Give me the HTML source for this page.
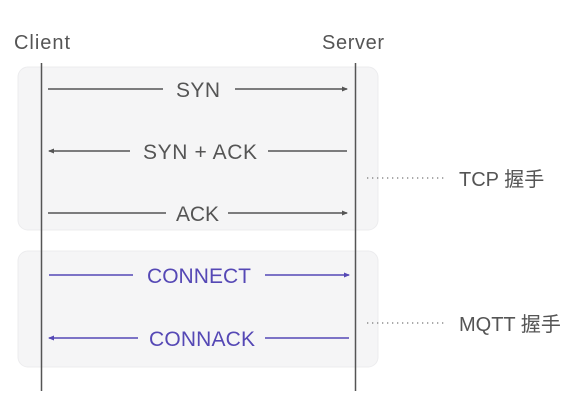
<!DOCTYPE html>
<html><head><meta charset="utf-8"><style>
html,body{margin:0;padding:0;background:#fff;width:585px;height:415px;overflow:hidden}
svg{display:block}
text{font-family:"Liberation Sans","Noto Sans CJK SC",sans-serif}
</style></head><body>
<svg width="585" height="415" viewBox="0 0 585 415" xmlns="http://www.w3.org/2000/svg">
<defs>
<marker id="ag" markerWidth="6" markerHeight="6" refX="5" refY="3" orient="auto" markerUnits="userSpaceOnUse"><path d="M0,0.5 L6,3 L0,5.5z" fill="#555"/></marker>
<marker id="ap" markerWidth="6" markerHeight="6" refX="5" refY="3" orient="auto" markerUnits="userSpaceOnUse"><path d="M0,0.5 L6,3 L0,5.5z" fill="#5548b5"/></marker>
</defs>
<rect x="18" y="67" width="360" height="163" rx="10" fill="#f5f5f6" stroke="#ececee"/>
<rect x="18" y="251" width="360" height="116" rx="10" fill="#f5f5f6" stroke="#ececee"/>
<line x1="41.5" y1="63" x2="41.5" y2="391" stroke="#555" stroke-width="1.5"/>
<line x1="355.5" y1="63" x2="355.5" y2="391" stroke="#555" stroke-width="1.5"/>
<text x="14" y="49" font-size="20" fill="#555" textLength="56">Client</text>
<text x="322" y="49" font-size="20" fill="#555" textLength="62">Server</text>
<g stroke="#555" stroke-width="1.5" fill="none">
<line x1="48" y1="89" x2="163" y2="89"/><line x1="235" y1="89" x2="347" y2="89" marker-end="url(#ag)"/>
<line x1="130" y1="151" x2="49" y2="151" marker-end="url(#ag)"/><line x1="268" y1="151" x2="347" y2="151"/>
<line x1="48" y1="213" x2="166" y2="213"/><line x1="228" y1="213" x2="347" y2="213" marker-end="url(#ag)"/>
</g>
<g stroke="#5548b5" stroke-width="1.5" fill="none">
<line x1="49" y1="275" x2="133" y2="275"/><line x1="265" y1="275" x2="349" y2="275" marker-end="url(#ap)"/>
<line x1="138" y1="338" x2="49" y2="338" marker-end="url(#ap)"/><line x1="265" y1="338" x2="349" y2="338"/>
</g>
<g font-size="21" fill="#555">
<text x="176" y="97" textLength="44">SYN</text>
<text x="143" y="159" textLength="114">SYN + ACK</text>
<text x="176" y="221" textLength="43">ACK</text>
</g>
<g font-size="21" fill="#5548b5">
<text x="147" y="283" textLength="104">CONNECT</text>
<text x="149" y="346" textLength="106">CONNACK</text>
</g>
<g stroke="#777" stroke-width="1.3" stroke-dasharray="1.3 3.7">
<line x1="367" y1="178" x2="446" y2="178"/>
<line x1="367" y1="323" x2="446" y2="323"/>
</g>
<text x="459" y="186" font-size="20" fill="#555">TCP 握手</text>
<text x="459" y="331" font-size="20" fill="#555">MQTT 握手</text>
</svg>
</body></html>
